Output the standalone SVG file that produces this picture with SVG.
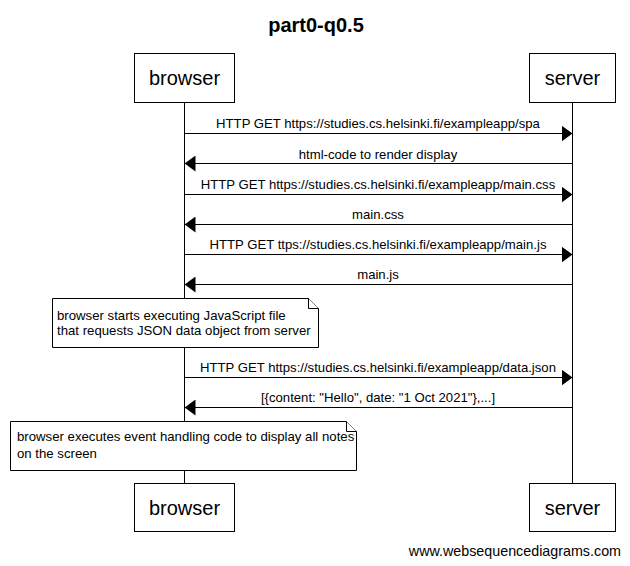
<svg xmlns="http://www.w3.org/2000/svg" width="630" height="566" viewBox="0 0 630 566">
<defs>
<style>
text{font-family:"Liberation Sans",Arial,sans-serif;fill:#000}
.title{font-size:20px;font-weight:bold;text-anchor:middle}
.actor rect{fill:#fff;stroke:#000;stroke-width:1}
.actor text{font-size:20px;text-anchor:middle}
.life{stroke:#000;stroke-width:1}
.msg line{stroke:#000;stroke-width:1}
.msg text{font-size:13.15px;text-anchor:middle}
.note path{fill:#fff;stroke:#000;stroke-width:1}
.note text{font-size:13.2px}
.footer{font-size:14.3px;text-anchor:end}
</style>
<marker id="ah" viewBox="0 0 11 16" refX="11" refY="8" markerWidth="11" markerHeight="16" markerUnits="userSpaceOnUse" orient="auto">
<path d="M0,0 L11,8 L0,16 Z" fill="#000"/>
</marker>
</defs>
<rect width="630" height="566" fill="#fff"/>
<text class="title" x="316" y="32">part0-q0.5</text>
<g id="lifelines">
<line class="life" x1="184.5" y1="102" x2="184.5" y2="483"/>
<line class="life" x1="572.5" y1="102" x2="572.5" y2="483"/>
</g>
<g id="browser-top" class="actor"><rect x="134.5" y="53.5" width="100" height="49"/><text x="184.5" y="85">browser</text></g>
<g id="server-top" class="actor"><rect x="529.5" y="53.5" width="86" height="49"/><text x="572.5" y="85">server</text></g>
<g id="browser-bottom" class="actor"><rect x="134.5" y="483.5" width="100" height="48"/><text x="184.5" y="515">browser</text></g>
<g id="server-bottom" class="actor"><rect x="529.5" y="483.5" width="86" height="48"/><text x="572.5" y="515">server</text></g>
<g id="connectors" class="msg">
<line x1="184.5" y1="133.5" x2="572.5" y2="133.5" marker-end="url(#ah)"/>
<text x="378" y="128">HTTP GET https://studies.cs.helsinki.fi/exampleapp/spa</text>
<line x1="572.5" y1="163.5" x2="184.5" y2="163.5" marker-end="url(#ah)"/>
<text x="378" y="159">html-code to render display</text>
<line x1="184.5" y1="194.5" x2="572.5" y2="194.5" marker-end="url(#ah)"/>
<text x="378" y="189">HTTP GET https://studies.cs.helsinki.fi/exampleapp/main.css</text>
<line x1="572.5" y1="224.5" x2="184.5" y2="224.5" marker-end="url(#ah)"/>
<text x="378" y="219">main.css</text>
<line x1="184.5" y1="254.5" x2="572.5" y2="254.5" marker-end="url(#ah)"/>
<text x="378" y="249">HTTP GET ttps://studies.cs.helsinki.fi/exampleapp/main.js</text>
<line x1="572.5" y1="284.5" x2="184.5" y2="284.5" marker-end="url(#ah)"/>
<text x="378" y="279">main.js</text>
<line x1="184.5" y1="377.5" x2="572.5" y2="377.5" marker-end="url(#ah)"/>
<text x="378" y="372">HTTP GET https://studies.cs.helsinki.fi/exampleapp/data.json</text>
<line x1="572.5" y1="407.5" x2="184.5" y2="407.5" marker-end="url(#ah)"/>
<text x="378" y="402">[{content: "Hello", date: "1 Oct 2021"},...]</text>
</g>
<g id="note1" class="note">
<path d="M52.5,298.5 H308.5 L318.5,308.5 V347.5 H52.5 Z"/>
<path d="M308.5,298.5 V308.5 H318.5" fill="none"/>
<text x="57" y="320">browser starts executing JavaScript file</text>
<text x="57" y="335">that requests JSON data object from server</text>
</g>
<g id="note2" class="note">
<path d="M10.5,421.5 H346.5 L356.5,431.5 V470.5 H10.5 Z"/>
<path d="M346.5,421.5 V431.5 H356.5" fill="none"/>
<text x="17" y="441">browser executes event handling code to display all notes</text>
<text x="17" y="458">on the screen</text>
</g>
<text class="footer" x="621" y="556">www.websequencediagrams.com</text>
</svg>
